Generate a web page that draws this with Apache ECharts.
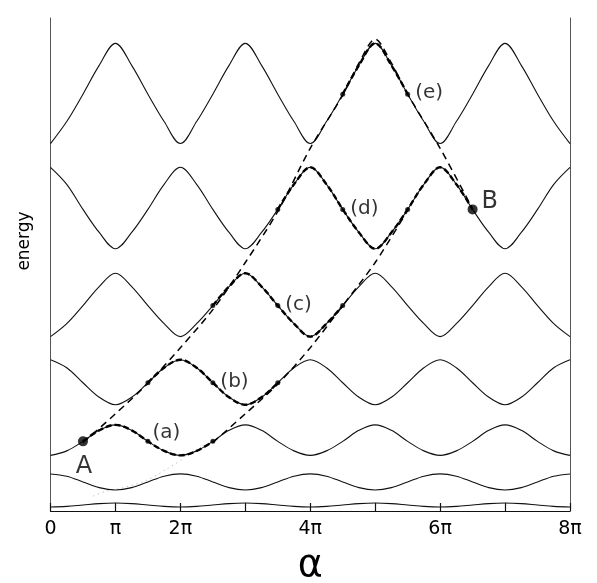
<!DOCTYPE html>
<html>
<head>
<meta charset="utf-8">
<script src="https://cdn.jsdelivr.net/npm/echarts@6/dist/echarts.min.js"></script>
<style>
  html, body { margin: 0; padding: 0; background: #fff; }
  #chart { width: 597px; height: 583px; }
</style>
</head>
<body>
<div id="chart"></div>
<script>
// alpha grid in units of pi
var alphaGrid = [0,0.25,0.5,0.75,1,1.25,1.5,1.75,2,2.25,2.5,2.75,3,3.25,3.5,3.75,4,
                 4.25,4.5,4.75,5,5.25,5.5,5.75,6,6.25,6.5,6.75,7,7.25,7.5,7.75,8];

// energy bands (arbitrary units)
var band1 = [4,4.6,6,7.4,8,7.4,6,4.6, 4,4.6,6,7.4,8,7.4,6,4.6, 4,4.6,6,7.4,8,7.4,6,4.6, 4,4.6,6,7.4,8,7.4,6,4.6, 4];
var band2 = [37,34.7,29,23.3,21,23.3,29,34.7, 37,34.7,29,23.3,21,23.3,29,34.7, 37,34.7,29,23.3,21,23.3,29,34.7, 37,34.7,29,23.3,21,23.3,29,34.7, 37];
var band3 = [55.5,60,69.5,80.5,86,80.5,69.5,60, 55.5,60,69.5,80.5,86,80.5,69.5,60, 55.5,60,69.5,80.5,86,80.5,69.5,60, 55.5,60,69.5,80.5,86,80.5,69.5,60, 55.5];
var band4 = [151,143,128,113.5,106,113.5,128,143, 151,143,128,113.5,106,113.5,128,143, 151,143,128,113.5,106,113.5,128,143, 151,143,128,113.5,106,113.5,128,143, 151];
var band5 = [174,187,205,224,237.3,224,205,187, 174,187,205,224,237.3,224,205,187, 174,187,205,224,237.3,224,205,187, 174,187,205,224,237.3,224,205,187, 174];
var band6 = [343,326,301,278,261.7,278,301,326, 343,326,301,278,261.7,278,301,326, 343,326,301,278,261.7,278,301,326, 343,326,301,278,261.7,278,301,326, 343];
var band7 = [366.7,388.7,416,444.7,466.7,444.7,416,388.7, 366.7,388.7,416,444.7,466.7,444.7,416,388.7, 366.7,388.7,416,444.7,466.7,444.7,416,388.7, 366.7,388.7,416,444.7,466.7,444.7,416,388.7, 366.7];
var bands = [band1, band2, band3, band4, band5, band6, band7];

// long dashed curves
var dash1Alpha = [0.5,1,1.5,2,2.5,3,3.5,4,4.5,4.75,5,5.25,5.5,6,6.5];
var dash1E     = [68.3,97,127.5,163,201,248,299,362,415,447,471,447,416,362,301.5];
var dash2Alpha = [2.5,3,3.5,4,4.5,5,5.5];
var dash2E     = [68.3,97,126.7,163,205,248,300];
// faint dotted trace at bottom left
var dotAlpha = [0.66,0.865,1.045,1.456,1.79,2.07];
var dotE     = [15,20,22,30,41.7,53.3];

// path followed along the bands: [band number, from alpha, to alpha]
var pathSegments = [[3,0.5,2.5],[4,1.5,3.5],[5,2.5,4.5],[6,3.5,6.5],[7,4.5,5.5]];

// marked points: [band number, alpha, label]
var markedPoints = [[3,1.5,'(a)'],[3,2.5,''],[4,1.5,''],[4,2.5,'(b)'],[4,3.5,''],
                    [5,2.5,''],[5,3.5,'(c)'],[5,4.5,''],[6,3.5,''],[6,4.5,'(d)'],[6,5.5,''],
                    [7,4.5,''],[7,5.5,'(e)']];
var endPoints = [[3,0.5,'A'],[6,6.5,'B']];

var tickLabels = ['0','\u03c0','2\u03c0','','4\u03c0','','6\u03c0','','8\u03c0'];

function pairs(xs, ys) { return xs.map(function (x, i) { return [x, ys[i]]; }); }
function bandValue(b, a) { return bands[b - 1][alphaGrid.indexOf(a)]; }

var series = [];
bands.forEach(function (b, i) {
  series.push({
    type: 'line', data: pairs(alphaGrid, b), smooth: 0.35, symbol: 'none',
    lineStyle: { color: '#111', width: 1.1 }, z: 2, silent: true
  });
});
pathSegments.forEach(function (seg) {
  var i0 = alphaGrid.indexOf(seg[1]), i1 = alphaGrid.indexOf(seg[2]);
  var xs = alphaGrid.slice(i0, i1 + 1), ys = bands[seg[0] - 1].slice(i0, i1 + 1);
  series.push({
    type: 'line', data: pairs(xs, ys), smooth: 0.35, symbol: 'none',
    lineStyle: { color: '#000', width: 2.4, type: [6, 3] }, z: 3, silent: true
  });
});
series.push({
  type: 'line', data: pairs(dash1Alpha, dash1E), smooth: 0.3, symbol: 'none',
  lineStyle: { color: '#000', width: 1.5, type: [7, 5] }, z: 3, silent: true
});
series.push({
  type: 'line', data: pairs(dash2Alpha, dash2E), smooth: 0.3, symbol: 'none',
  lineStyle: { color: '#000', width: 1.5, type: [7, 5] }, z: 3, silent: true
});
series.push({
  type: 'line', data: pairs(dotAlpha, dotE), smooth: 0.3, symbol: 'none',
  lineStyle: { color: '#aaa', width: 1, type: [1, 4] }, z: 1, silent: true
});
series.push({
  type: 'scatter', symbolSize: 5, itemStyle: { color: '#000' }, z: 5, silent: true,
  data: markedPoints.map(function (p) {
    return {
      value: [p[1], bandValue(p[0], p[1])],
      label: {
        show: p[2] !== '', formatter: p[2], position: 'right',
        distance: p[2] === '(a)' ? 2 : 5,
        offset: p[2] === '(a)' ? [0, -9] : [0, -1],
        fontSize: 20, color: '#000', fontFamily: 'DejaVu Sans'
      }
    };
  })
});
series.push({
  type: 'scatter', symbolSize: 10, itemStyle: { color: '#000' }, z: 6, silent: true,
  data: endPoints.map(function (p) {
    return {
      value: [p[1], bandValue(p[0], p[1])],
      label: {
        show: true, formatter: p[2],
        position: p[2] === 'A' ? 'bottom' : 'right',
        distance: 5, offset: p[2] === 'A' ? [1, 3] : [-1, -8],
        fontSize: 24, color: '#000', fontFamily: 'DejaVu Sans'
      }
    };
  })
});

var yAxisCommon = {
  type: 'value', min: 0, max: 492,
  axisLine: { show: true, lineStyle: { color: '#555', width: 1 } },
  axisTick: { show: false }, axisLabel: { show: false }, splitLine: { show: false }
};

var chart = echarts.init(document.getElementById('chart'), null, { renderer: 'canvas' });
chart.setOption({
  animation: false,
  backgroundColor: '#fff',
  grid: { left: 50.5, right: 27, top: 18, bottom: 72, containLabel: false, outerBoundsMode: 'none' },
  xAxis: {
    type: 'value', min: 0, max: 8, interval: 1,
    axisLine: { show: true, lineStyle: { color: '#111', width: 1.2 } },
    axisTick: { show: true, inside: true, length: 8, lineStyle: { color: '#111', width: 1.2 } },
    axisLabel: {
      show: true, margin: 9, fontSize: 19, color: '#000', fontFamily: 'DejaVu Sans',
      showMinLabel: true, showMaxLabel: true,
      formatter: function (v) { return tickLabels[Math.round(v)]; }
    },
    splitLine: { show: false },
    name: '\u03b1', nameLocation: 'middle', nameGap: 36,
    nameTextStyle: { fontSize: 38, color: '#000', fontFamily: 'DejaVu Sans' }
  },
  yAxis: [
    Object.assign({ position: 'left' }, yAxisCommon),
    Object.assign({ position: 'right' }, yAxisCommon)
  ],
  graphic: [{
    type: 'text', x: 25, y: 241, rotation: Math.PI / 2,
    style: { text: 'energy', fontSize: 17, fill: '#000', fontFamily: 'DejaVu Sans',
             textAlign: 'center', textVerticalAlign: 'middle' }
  }],
  series: series
});
</script>
</body>
</html>
